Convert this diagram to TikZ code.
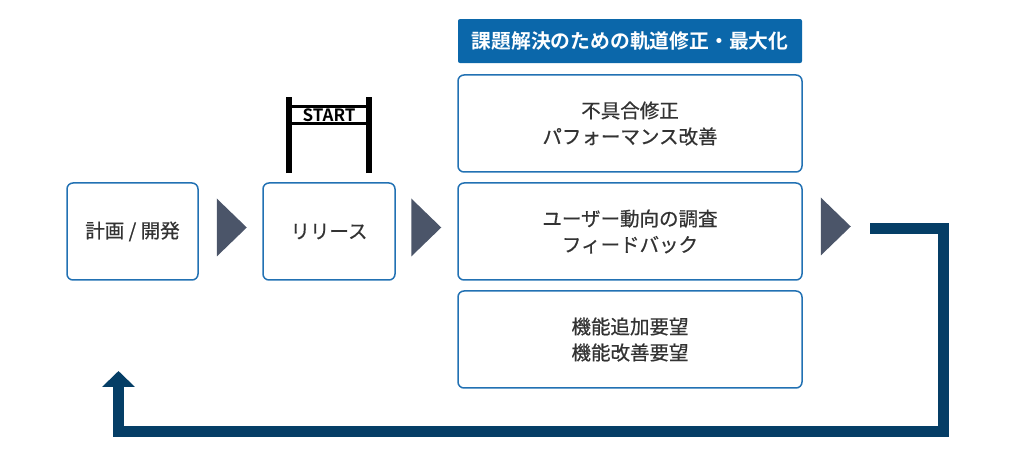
\documentclass[tikz,border=0pt]{standalone}
\usepackage{fontspec}
\setmainfont{Noto Sans CJK JP}[BoldFont={Noto Sans CJK JP Bold}]
\newfontfamily\medfont{Noto Sans CJK JP}[FakeBold=0.6]
\usetikzlibrary{positioning,arrows.meta}
\definecolor{textgray}{HTML}{333333}
\definecolor{boxblue}{HTML}{2271B3}
\definecolor{titleblue}{HTML}{0B67AA}
\definecolor{trigray}{HTML}{4B5569}
\definecolor{loopblue}{HTML}{053E66}
\begin{document}
\begin{tikzpicture}[x=1pt,y=1pt,node distance=9.5pt,
				flow box/.style = {draw=boxblue, line width=1.5pt, rounded corners=6pt, text=textgray, align=center,
					font=\fontsize{19.5}{26}\medfont, minimum height=97pt},
				wide box/.style = {flow box, minimum width=344pt},
				title box/.style = {fill=titleblue, rounded corners=2pt, text=white,
					font=\fontsize{19.8}{26}\selectfont\bfseries, minimum width=344pt, minimum height=44pt},
				sign/.style = {draw, line width=3pt, outer sep=0pt, inner sep=0pt, minimum width=80pt, minimum height=17pt,
					font=\fontsize{17}{17}\selectfont\bfseries},
				tri/.style = {fill=trigray},
				post/.style = {line width=6pt},
				loop line/.style = {draw=loopblue, line width=11pt}]
				\useasboundingbox (0,0) rectangle (1024,452);
				
				\node[flow box, minimum width=131pt] (plan) at (132.5,220.5) {計画 / 開発};
				\node[flow box, minimum width=132pt, right=63.5pt of plan] (release) {リリース};
				\node[wide box, right=61.5pt of release] (survey) {ユーザー動向の調査\\フィードバック};
				\node[wide box, above=of survey] (fix) {不具合修正\\パフォーマンス改善};
				\node[wide box, below=of survey] (request) {機能追加要望\\機能改善要望};
				\node[title box, above=11pt of fix] (title) {課題解決のための軌道修正・最大化};
				
				% start gate
				\node[sign, above=59pt of release] (start) {START};
				\draw[post] ([yshift=9pt]release.north -| start.west) -- ([yshift=9pt]start.north west);
				\draw[post] ([yshift=9pt]release.north -| start.east) -- ([yshift=9pt]start.north east);
				
				% arrows
				\fill[tri] ([xshift=18pt,yshift=4pt]plan.east) ++(0,29) -- ++(30,-29) -- ++(-30,-29) -- cycle;
				\fill[tri] ([xshift=15.5pt,yshift=4pt]release.east) ++(0,29) -- ++(30,-29) -- ++(-30,-29) -- cycle;
				\fill[tri] ([xshift=18pt,yshift=5pt]survey.east) ++(0,29) -- ++(30,-29) -- ++(-30,-29) -- cycle;
				
				\coordinate (loop start) at (870,223.5);
				\coordinate (loop end) at (118.5,81);
				\draw[loop line, -{Triangle[width=32pt,length=16pt]}] (loop start) -| (943,20.5) -| (loop end);
\end{tikzpicture}
\end{document}
